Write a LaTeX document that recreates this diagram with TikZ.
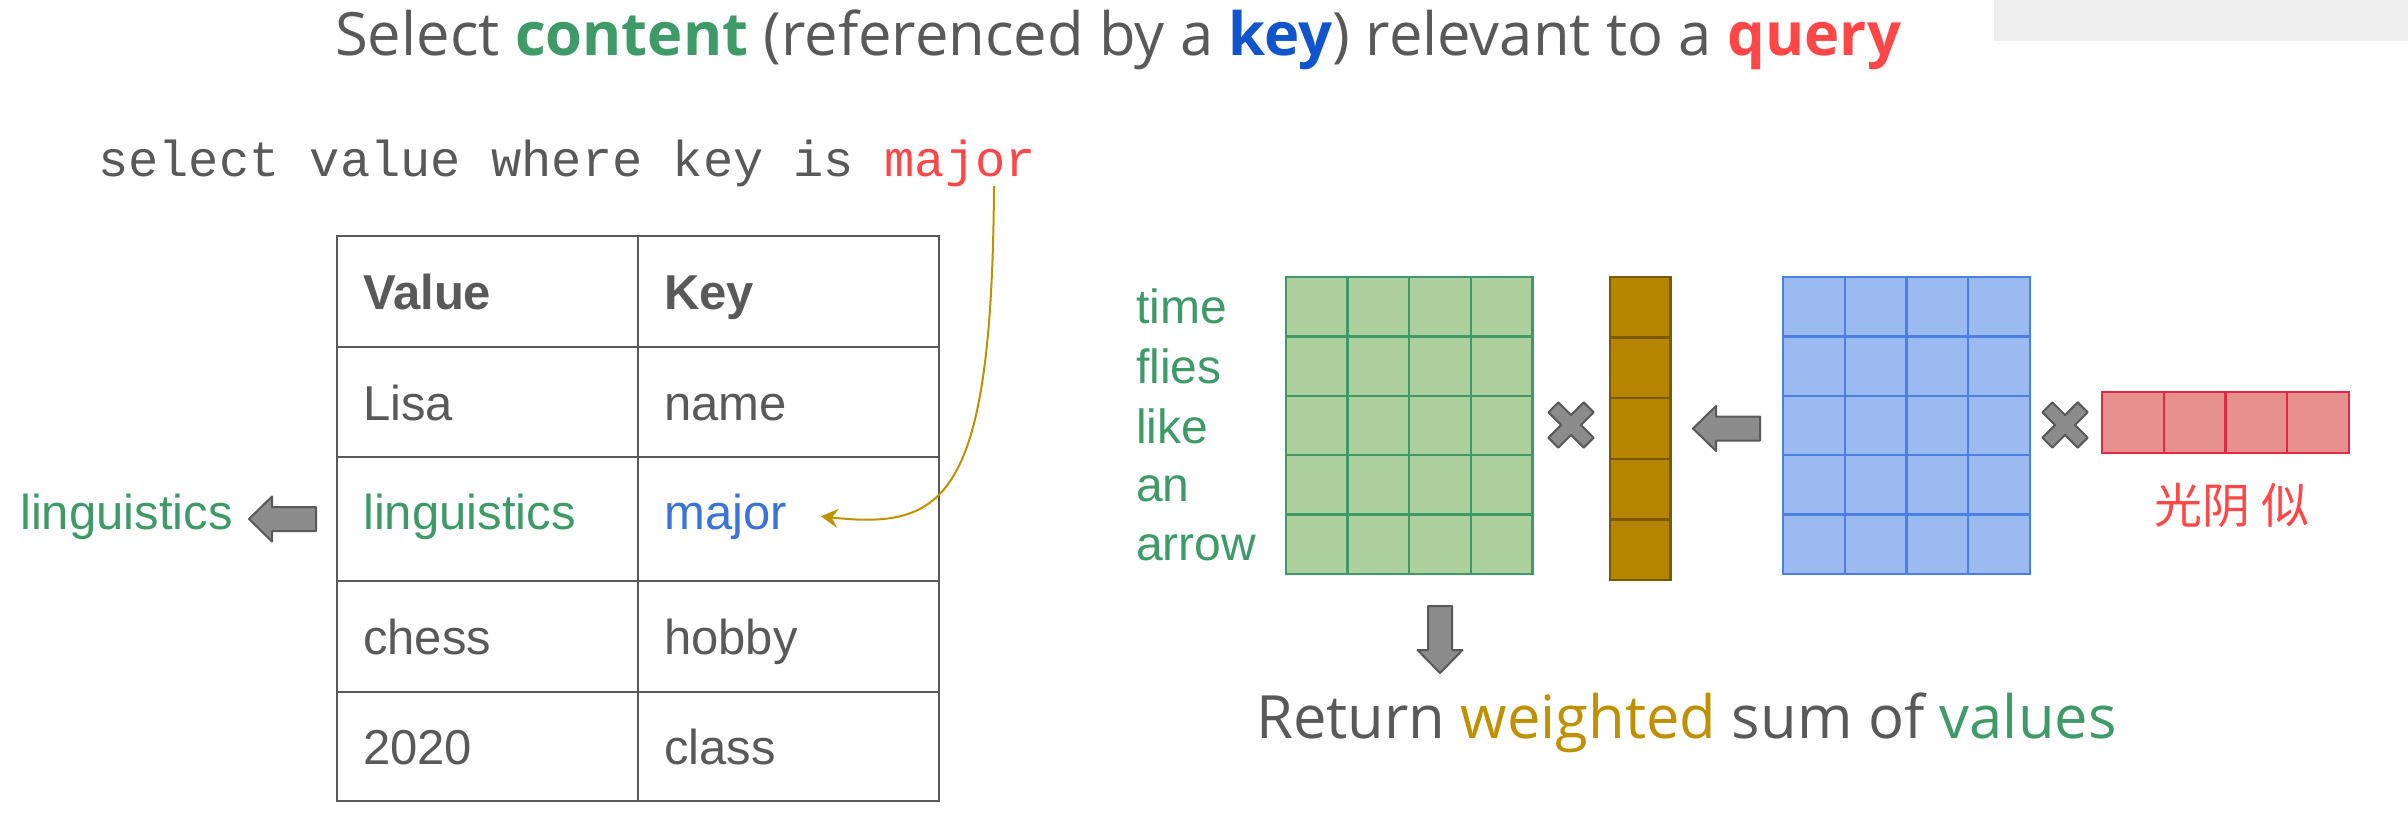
\documentclass[tikz,border=0pt]{standalone}
\usepackage{fontspec}
\setmainfont{Liberation Sans}
\setmonofont{Liberation Mono}
\newfontfamily\headfont{Open Sans}
\newfontfamily\cjkfont{Noto Sans CJK SC}
\usetikzlibrary{arrows.meta}

\definecolor{textgray}{HTML}{595959}
\definecolor{valgreen}{HTML}{3E9A67}
\definecolor{keyblue}{HTML}{1155CC}
\definecolor{majorblue}{HTML}{3C73D6}
\definecolor{qred}{HTML}{FF4747}
\definecolor{goldline}{HTML}{BF9000}
\definecolor{greenfill}{HTML}{AED09F}
\definecolor{weightfill}{HTML}{B58500}
\definecolor{weightedge}{HTML}{7A5A00}
\definecolor{bluefill}{HTML}{9BBAEF}
\definecolor{blueedge}{HTML}{4A80E6}
\definecolor{redfill}{HTML}{E69090}
\definecolor{rededge}{HTML}{E02A45}
\definecolor{arrowgray}{HTML}{8C8C8C}
\definecolor{boxgray}{HTML}{EEEEEE}

\tikzset{
  txt/.style={anchor=base west, inner sep=0pt},
  cellfont/.style={font=\fontsize{49}{55}\selectfont, text=textgray},
  headfont/.style={font=\fontsize{49}{55}\selectfont\bfseries, text=textgray},
  wordfont/.style={font=\fontsize{48}{54}\selectfont, text=valgreen},
  tableline/.style={draw=textgray, line width=2.8pt},
  valcell/.style={draw=valgreen, fill=greenfill, line width=2.4pt},
  weightcell/.style={draw=weightedge, fill=weightfill, line width=2.4pt},
  keycell/.style={draw=blueedge, fill=bluefill, line width=2.4pt},
  querycell/.style={draw=rededge, fill=redfill, line width=2.4pt},
  arrowbody/.style={draw=textgray, fill=arrowgray, line width=2pt, line join=round},
  pics/leftarrow/.style={code={
    \draw[arrowbody] (0,0) -- (23,-22.5) -- (23,-12) -- (67,-12)
      -- (67,12) -- (23,12) -- (23,22.5) -- cycle;
  }},
  pics/timesmark/.style={code={
    \draw[arrowbody, rotate=45] (7,7) -- (7,25) -- (-7,25) -- (-7,7) -- (-25,7)
      -- (-25,-7) -- (-7,-7) -- (-7,-25) -- (7,-25) -- (7,-7) -- (25,-7)
      -- (25,7) -- cycle;
  }},
}

\begin{document}
\begin{tikzpicture}[x=1pt, y=-1pt]

  \useasboundingbox (0,0) rectangle (2408,830);

  % grey box top right
  \fill[boxgray] (1994,0) rectangle (2408,41);

  % title
  \node[txt, font=\headfont\fontsize{59.7}{64}\selectfont, text=textgray] (title) at (335,55)
    {Select \textbf{\textcolor{valgreen}{content}} (referenced by a \textbf{\textcolor{keyblue}{key}}) relevant to a \textbf{\textcolor{qred}{query}}};

  % query line
  \node[txt, font=\ttfamily\fontsize{50.4}{56}\selectfont, text=textgray] (query) at (98,176)
    {select value where key is \textcolor{qred}{major}};
  \coordinate (qtail) at (994,186);

  % table
  \draw[tableline] (337,236) rectangle (939,801);
  \foreach \y in {347,457,581,692}
    \draw[tableline] (337,\y) -- (939,\y);
  \draw[tableline] (638,236) -- (638,801);

  % table texts
  \node[txt, headfont] (vhead) at (363,309) {Value};
  \node[txt, headfont] (khead) at (664,309) {Key};
  \node[txt, cellfont] (vlisa) at (363,420) {Lisa};
  \node[txt, cellfont] (kname) at (664,420) {name};
  \node[txt, cellfont, text=valgreen] (vling) at (363,529) {linguistics};
  \node[txt, cellfont, text=majorblue] (kmajor) at (664,529) {major};
  \node[txt, cellfont] (vchess) at (363,654) {chess};
  \node[txt, cellfont] (khobby) at (664,654) {hobby};
  \node[txt, cellfont] (vyear) at (363,764) {2020};
  \node[txt, cellfont] (kclass) at (664,764) {class};

  % result on the left
  \node[txt, cellfont, text=valgreen] (result) at (20,529) {linguistics};
  \pic at (249,519) {leftarrow};

  % lookup curve
  \draw[goldline, line width=2pt, -{Stealth[length=17pt, width=19pt, inset=6pt]}]
    (qtail) .. controls (992,500) and (945,530) .. ([xshift=34pt]kmajor.east);

  % words
  \node[txt, wordfont] (wtime) at (1136,323) {time};
  \node[txt, wordfont] (wflies) at (1136,383) {flies};
  \node[txt, wordfont] (wlike) at (1136,443) {like};
  \node[txt, wordfont] (wan) at (1136,501) {an};
  \node[txt, wordfont] (warrow) at (1136,560) {arrow};

  % value matrix
  \foreach \c in {0,...,3}
    \foreach \r in {0,...,4}
      \draw[valcell] ({1286+\c*61.6},{277+\r*59.4}) rectangle ++(61.6,59.4);

  \pic at (1571,425) {timesmark};

  % weight column
  \foreach \r in {0,...,4}
    \draw[weightcell] (1610,{277+\r*60.6}) rectangle ++(60.5,60.6);

  \pic at (1693,428.5) {leftarrow};

  % key matrix
  \foreach \c in {0,...,3}
    \foreach \r in {0,...,4}
      \draw[keycell] ({1783+\c*61.7},{277+\r*59.4}) rectangle ++(61.7,59.4);

  \pic at (2065,425) {timesmark};

  % query vector
  \foreach \c in {0,...,3}
    \draw[querycell] ({2102+\c*61.7},392) rectangle ++(61.7,61);
  \node[font=\cjkfont\fontsize{48}{54}\selectfont, text=qred, inner sep=0pt] (qwords) at (2232,505) {光阴 似};

  % down arrow and sum
  \pic[rotate=90] at (1440,673) {leftarrow};
  \node[txt, font=\headfont\fontsize{59.7}{63}\selectfont, text=textgray] (sumtext) at (1256,738)
    {Return \textcolor{goldline}{weighted} sum of \textcolor{valgreen}{values}};

\end{tikzpicture}
\end{document}
